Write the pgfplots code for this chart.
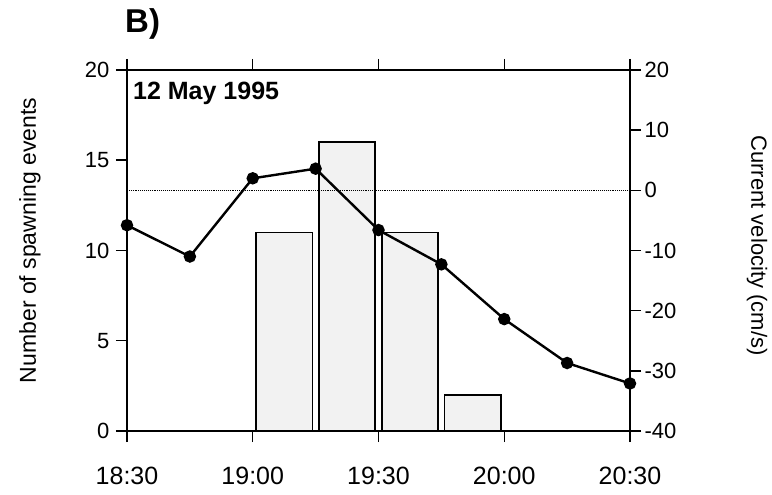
\documentclass[border=0pt]{standalone}
\usepackage{fontspec}
\setmainfont{Liberation Sans}
\usepackage{pgfplots}
\pgfplotsset{compat=1.18}
\begin{document}
\begin{tikzpicture}
\pgfplotsset{
  common/.style={
    scale only axis, width=503pt, height=361pt,
    xmin=0, xmax=120,
    tick align=outside, major tick length=11pt,
    axis line style={line width=1.8pt},
    every tick/.style={line width=1.5pt, black},
    /pgf/number format/assume math mode=true,
    yticklabel style={font=\fontsize{22}{26}\selectfont},
    clip=false,
  }
}
\begin{axis}[common, name=ax,
  ymin=0, ymax=20,
  xtick={0,30,60,90,120},
  xticklabels={18:30,19:00,19:30,20:00,20:30},
  xtick pos=both, xticklabel pos=lower,
  xticklabel style={font=\fontsize{25}{30}\selectfont, yshift=-22pt},
  ytick={0,5,10,15,20}, ytick pos=left,
  yticklabel style={xshift=-3pt},
]
\addplot[ybar, bar width=13.4, fill=gray!10, draw=black, line width=1.5pt]
  coordinates {(37.5,11) (52.5,16) (67.5,11) (82.5,2)};
\end{axis}
\begin{axis}[common,
  ymin=-40, ymax=20,
  axis y line*=right, axis x line=none,
  ytick={-40,-30,-20,-10,0,10,20},
]
\addplot[black, densely dotted, line width=0.9pt] coordinates {(0,0) (120,0)};
\addplot[black, line width=2.4pt, mark=*, mark size=5pt, mark options={solid}]
  coordinates {(0,-5.8) (15,-11.0) (30,2.0) (45,3.6) (60,-6.6) (75,-12.3) (90,-21.4) (105,-28.7) (120,-32.1)};
\end{axis}
\node[rotate=90, font=\fontsize{23}{28}\selectfont] at ([shift={(-97pt,10pt)}]ax.west) {Number of spawning events};
\node[rotate=-90, font=\fontsize{22}{27}\selectfont] at ([shift={(127pt,5pt)}]ax.east) {Current velocity (cm/s)};
\node[anchor=base west, inner sep=0pt, font=\bfseries\fontsize{33}{40}\selectfont] at ([shift={(-2pt,37pt)}]ax.north west) {B)};
\node[anchor=base west, inner sep=0pt, font=\bfseries\fontsize{25}{30}\selectfont] at ([shift={(6pt,-30pt)}]ax.north west) {12 May 1995};
\pgfresetboundingbox
\path ([shift={(-127pt,-64pt)}]ax.south west) rectangle ([shift={(142pt,70pt)}]ax.north east);
\end{tikzpicture}
\end{document}
